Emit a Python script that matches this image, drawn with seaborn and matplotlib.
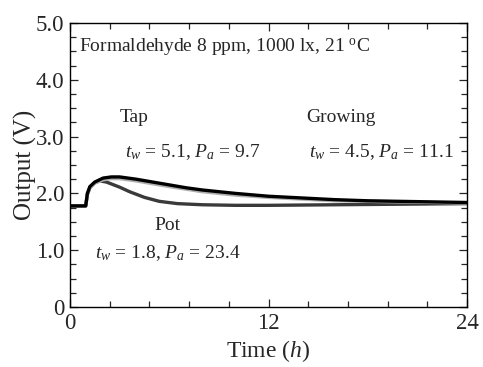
import numpy as np
import pandas as pd
import matplotlib
matplotlib.use("Agg")
import matplotlib.pyplot as plt
import seaborn as sns
from matplotlib.ticker import MultipleLocator, FuncFormatter

# ---- data ----
time_tap = [0, 0.95, 1.05, 1.2, 1.5, 2, 2.5, 3, 4, 5, 6, 7, 8, 10, 12, 14, 16, 18, 20, 22, 24]
output_tap = [1.78, 1.78, 2.0, 2.12, 2.2, 2.27, 2.29, 2.29, 2.25, 2.2, 2.15, 2.1, 2.06, 2.0, 1.95, 1.92, 1.89, 1.87, 1.86, 1.85, 1.84]

time_growing = [0, 0.95, 1.05, 1.2, 1.5, 2, 2.5, 3, 4, 5, 6, 8, 10, 12, 14, 16, 18, 20, 22, 24]
output_growing = [1.78, 1.78, 2.0, 2.1, 2.18, 2.24, 2.26, 2.26, 2.22, 2.17, 2.12, 2.03, 1.97, 1.93, 1.9, 1.87, 1.86, 1.85, 1.84, 1.83]

time_pot = [0, 0.95, 1.05, 1.2, 1.5, 1.8, 2.2, 3, 3.6, 4.5, 5.4, 6.5, 8, 10, 12, 16, 20, 24]
output_pot = [1.78, 1.78, 1.98, 2.1, 2.19, 2.22, 2.2, 2.11, 2.03, 1.93, 1.86, 1.82, 1.8, 1.79, 1.79, 1.8, 1.81, 1.82]

series_names = ["Pot", "Growing", "Tap"]
series_colors = ["#3a3a3a", "#b0b0b0", "#000000"]

df = pd.concat([
    pd.DataFrame({"Time": time_pot, "Output": output_pot, "Sample": "Pot"}),
    pd.DataFrame({"Time": time_growing, "Output": output_growing, "Sample": "Growing"}),
    pd.DataFrame({"Time": time_tap, "Output": output_tap, "Sample": "Tap"}),
])

sns.set_style("ticks")
plt.rcParams["font.family"] = ["Liberation Serif", "DejaVu Serif"]
plt.rcParams["mathtext.fontset"] = "custom"
plt.rcParams["mathtext.rm"] = "Liberation Serif"
plt.rcParams["mathtext.it"] = "Liberation Serif:italic"

fig = plt.figure(figsize=(4.83, 3.67), dpi=100)
ax = fig.add_axes([70 / 483, 1 - 307 / 367, (467 - 70) / 483, (307 - 23) / 367])

sns.lineplot(data=df, x="Time", y="Output", hue="Sample", hue_order=series_names,
             palette=dict(zip(series_names, series_colors)), linewidth=2.4,
             legend=False, ax=ax, sort=False)

ax.set_xlim(0, 24)
ax.set_ylim(0, 5)
ax.xaxis.set_major_locator(MultipleLocator(12))
ax.xaxis.set_minor_locator(MultipleLocator(2.4))
ax.yaxis.set_major_locator(MultipleLocator(1))
ax.yaxis.set_minor_locator(MultipleLocator(0.25))
ax.yaxis.set_major_formatter(FuncFormatter(lambda v, p: "0" if v == 0 else f"{v:.1f}"))
ax.tick_params(which="both", direction="in", top=True, right=True, width=0.9)
ax.tick_params(which="major", length=6, labelsize=16.5, pad=4)
ax.tick_params(which="minor", length=4)
for s in ax.spines.values():
    s.set_linewidth(1.0)
    s.set_color("black")

ax.set_xlabel("Time ($\\mathit{h}$)", fontsize=17, labelpad=3)
ax.set_ylabel("Output (V)", fontsize=18, labelpad=-1)

tfs = 14
ax.text(0.55, 4.57, "Formaldehyde 8 ppm, 1000 lx, 21 $^{\\rm o}$C", fontsize=tfs, va="center", ha="left")
ax.text(3.9, 3.33, "Tap", fontsize=tfs, ha="center", va="center")
ax.text(7.4, 2.73, "$t_w$ = 5.1, $P_a$ = 9.7", fontsize=tfs, ha="center", va="center")
ax.text(16.4, 3.33, "Growing", fontsize=tfs, ha="center", va="center")
ax.text(18.8, 2.73, "$t_w$ = 4.5, $P_a$ = 11.1", fontsize=tfs, ha="center", va="center")
ax.text(5.9, 1.44, "Pot", fontsize=tfs, ha="center", va="center")
ax.text(5.9, 0.95, "$t_w$ = 1.8, $P_a$ = 23.4", fontsize=tfs, ha="center", va="center")

fig.savefig("out.png", dpi=100)
